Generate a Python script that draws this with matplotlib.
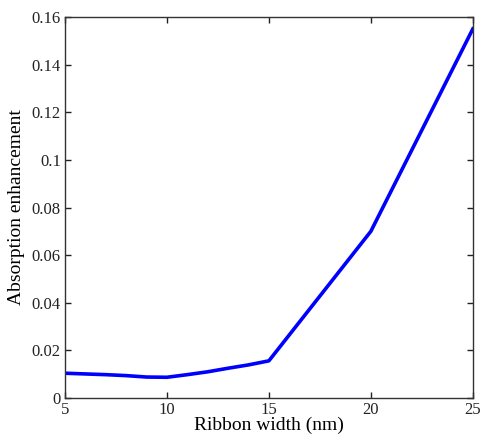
import matplotlib
matplotlib.use('Agg')
import matplotlib.pyplot as plt

# valores
largura = [5, 6, 7, 8, 9, 10, 11, 12, 13, 14, 15, 20, 25]
absorcao = [0.0104, 0.0101, 0.0098, 0.0094, 0.0088, 0.0087, 0.0098, 0.0110,
            0.0125, 0.0139, 0.0156, 0.0700, 0.1550]
xticks = [5, 10, 15, 20, 25]
yticks = [0, 0.02, 0.04, 0.06, 0.08, 0.1, 0.12, 0.14, 0.16]
ytick_labels = ['0', '0.02', '0.04', '0.06', '0.08', '0.1', '0.12', '0.14', '0.16']

plt.rcParams['font.family'] = ['Liberation Serif', 'DejaVu Serif']

fig = plt.figure(figsize=(4.81, 4.43), dpi=100)
ax = fig.add_axes([0.135, 0.1016, 0.848, 0.86])

ax.plot(largura, absorcao, color='#0000ff', linewidth=2.6)

ax.set_xlim(5, 25)
ax.set_ylim(0, 0.16)
ax.set_xticks(xticks)
ax.set_yticks(yticks)
ax.set_yticklabels(ytick_labels)
ax.tick_params(direction='in', top=True, right=True, length=4, width=1,
               labelsize=12, colors='#222222', pad=3)
for s in ax.spines.values():
    s.set_color('#333333')
    s.set_linewidth(1)

ax.set_xlabel('Ribbon width (nm)', fontsize=14, labelpad=-1)
ax.set_ylabel('Absorption enhancement', fontsize=14, labelpad=5)

fig.savefig('out.png', dpi=100)
